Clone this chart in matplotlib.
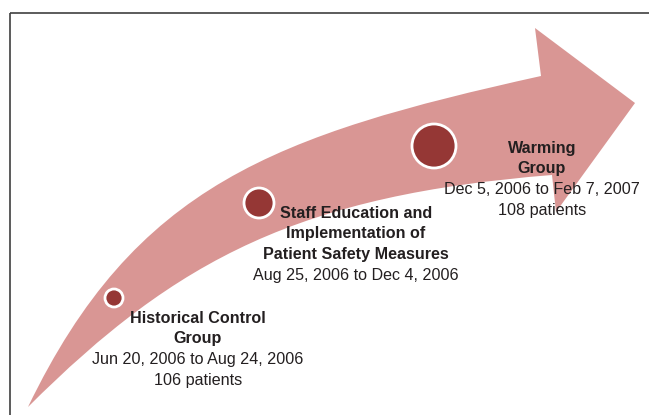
import matplotlib.pyplot as plt
import numpy as np
from matplotlib.path import Path
from matplotlib.patches import PathPatch, Circle

plt.rcParams['font.family'] = ['Liberation Sans', 'DejaVu Sans']

# phases of the study
titles = [["Historical Control", "Group"],
          ["Staff Education and", "Implementation of", "Patient Safety Measures"],
          ["Warming", "Group"]]
periods = ["Jun 20, 2006 to Aug 24, 2006",
           "Aug 25, 2006 to Dec 4, 2006",
           "Dec 5, 2006 to Feb 7, 2007"]
patients = ["106 patients", "", "108 patients"]

# circle markers along the arrow (pixel coords) and their radii
dot_x = [114, 259, 434]
dot_y = [298, 203, 146]
dot_r = [9, 15, 22]

# label anchor (centre x, centre y of first line)
lab_x = [198, 356, 542]
lab_y = [318, 213, 148]

arrow_col = '#D99694'
dot_col = '#953735'
txt_col = '#231F20'

W, H = 649, 415
fig = plt.figure(figsize=(W / 100, H / 100), dpi=100)
ax = fig.add_axes([0, 0, 1, 1])
ax.set_xlim(0, W)
ax.set_ylim(H, 0)
ax.axis('off')

# curved arrow: tail point, upper edge, head, lower edge back to tail
verts = [(28, 407),
         (135, 185), (275, 135), (541, 76),   # upper edge (cubic bezier)
         (535, 28),                            # upper barb
         (635, 103),                           # tip
         (556, 212),                           # lower barb
         (552, 175),                           # lower notch
         (302, 195), (178, 257), (28, 407)]    # lower edge back
codes = [Path.MOVETO,
         Path.CURVE4, Path.CURVE4, Path.CURVE4,
         Path.LINETO, Path.LINETO, Path.LINETO, Path.LINETO,
         Path.CURVE4, Path.CURVE4, Path.CURVE4]
ax.add_patch(PathPatch(Path(verts, codes), facecolor=arrow_col,
                       edgecolor='none', zorder=1))

for x, y, r in zip(dot_x, dot_y, dot_r):
    ax.add_patch(Circle((x, y), r, facecolor=dot_col, edgecolor='white',
                        linewidth=2, zorder=2))

step = 20.8
for i in range(3):
    lines = [(t, 'bold') for t in titles[i]] + [(periods[i], 'normal')]
    if patients[i]:
        lines.append((patients[i], 'normal'))
    for k, (t, w) in enumerate(lines):
        ax.text(lab_x[i], lab_y[i] + k * step, t, ha='center', va='center',
                fontsize=11.6, fontweight=w, color=txt_col, zorder=3)

# frame lines (top and left)
ax.plot([10, W], [13, 13], color='#404040', lw=1.2, solid_capstyle='butt')
ax.plot([10, 10], [13, H], color='#404040', lw=1.2, solid_capstyle='butt')

fig.savefig('out.png', dpi=100)
